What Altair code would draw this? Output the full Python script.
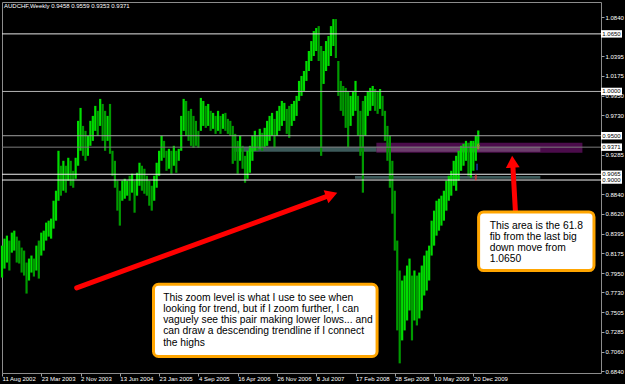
import datetime as dt
import altair as alt
import pandas as pd

W, H = 599, 371
START = dt.date(2002, 8, 11)

# two-week bar ranges (price units)
highs = [
    0.8259, 0.8338, 0.8372, 0.8316, 0.8406, 0.8428, 0.8361, 0.8316, 0.8237, 0.8203,
    0.8068, 0.8113, 0.8147, 0.8113, 0.8259, 0.8316, 0.8406, 0.8428, 0.8519, 0.8541,
    0.8564, 0.8766, 0.8879, 0.9330, 0.9161, 0.9217, 0.9161, 0.9251, 0.9217, 0.9104,
    0.9251, 0.9668, 0.9814, 0.9611, 0.9555, 0.9499, 0.9668, 0.9724, 0.9837, 0.9781,
    0.9916, 0.9859, 0.9781, 0.9724, 0.9859, 0.9330, 0.9217, 0.8992, 0.8879, 0.8992,
    0.9014, 0.8992, 0.9048, 0.9071, 0.8992, 0.9082, 0.9195, 0.9161, 0.9127, 0.9048,
    0.8992, 0.8935, 0.9048, 0.9195, 0.9330, 0.9499, 0.9442, 0.9330, 0.9352, 0.9330,
    0.9386, 0.9330, 0.9352, 0.9724, 0.9916, 0.9893, 0.9781, 0.9803, 0.9724, 0.9668,
    0.9555, 0.9927, 0.9893, 0.9837, 0.9859, 0.9781, 0.9758, 0.9724, 0.9781, 0.9724,
    0.9747, 0.9758, 0.9690, 0.9668, 0.9611, 0.9521, 0.9442, 0.9499, 0.9386, 0.9273,
    0.9330, 0.9386, 0.9499, 0.9555, 0.9499, 0.9578, 0.9533, 0.9589, 0.9668, 0.9724,
    0.9758, 0.9690, 0.9781, 0.9837, 0.9893, 0.9871, 0.9803, 0.9837, 0.9859, 0.9893,
    0.9950, 1.0119, 1.0175, 1.0231, 1.0344, 1.0457, 1.0569, 1.0682, 1.0716, 1.0738,
    1.0513, 1.0457, 1.0569, 1.0626, 1.0738, 1.0817, 1.0817, 1.0344, 1.0119, 1.0062,
    1.0040, 1.0006, 0.9950, 1.0006, 1.0119, 0.9950, 0.9781, 0.9893, 0.9950, 1.0006,
    1.0040, 1.0062, 1.0028, 1.0006, 1.0028, 0.9950, 0.9781, 0.9611, 0.9499, 0.9217,
    0.8879, 0.8316, 0.7978, 0.7865, 0.7921, 0.8034, 0.8113, 0.7921, 0.7978, 0.7921,
    0.7955, 0.8034, 0.8147, 0.8203, 0.8259, 0.8541, 0.8654, 0.8766, 0.8789, 0.8823,
    0.8879, 0.8992, 0.9048, 0.9104, 0.9217, 0.9273, 0.9330, 0.9386, 0.9409, 0.9442,
    0.9420, 0.9442, 0.9442, 0.9499, 0.9559,
]
lows = [
    0.7899, 0.8000, 0.8068, 0.7978, 0.8180, 0.8203, 0.8068, 0.8057, 0.7955, 0.7921,
    0.7718, 0.7865, 0.7955, 0.7910, 0.7978, 0.7887, 0.8147, 0.8203, 0.8316, 0.8361,
    0.8338, 0.8451, 0.8541, 0.8766, 0.8823, 0.8879, 0.8857, 0.8992, 0.8935, 0.8913,
    0.9014, 0.9161, 0.9330, 0.9273, 0.9217, 0.9273, 0.9386, 0.9442, 0.9555, 0.9499,
    0.9611, 0.9442, 0.9330, 0.9442, 0.9296, 0.9048, 0.8913, 0.8654, 0.8485, 0.8766,
    0.8789, 0.8823, 0.8766, 0.8857, 0.8631, 0.8823, 0.8935, 0.8879, 0.8845, 0.8823,
    0.8710, 0.8654, 0.8766, 0.8913, 0.9048, 0.9217, 0.9251, 0.9104, 0.9127, 0.9071,
    0.9161, 0.9082, 0.9217, 0.9330, 0.9555, 0.9499, 0.9442, 0.9386, 0.9364, 0.9386,
    0.9364, 0.9555, 0.9611, 0.9589, 0.9611, 0.9555, 0.9578, 0.9521, 0.9555, 0.9521,
    0.9578, 0.9555, 0.9521, 0.9499, 0.9183, 0.9217, 0.9071, 0.9217, 0.9127, 0.8969,
    0.9014, 0.9082, 0.9217, 0.9330, 0.9330, 0.9352, 0.9330, 0.9375, 0.9386, 0.9442,
    0.9499, 0.9364, 0.9499, 0.9555, 0.9611, 0.9668, 0.9521, 0.9476, 0.9611, 0.9668,
    0.9724, 0.9893, 0.9950, 1.0006, 1.0119, 1.0231, 1.0344, 1.0400, 1.0457, 1.0344,
    0.9273, 1.0085, 1.0231, 1.0288, 1.0400, 1.0513, 1.0378, 0.9950, 0.9781, 0.9724,
    0.9589, 0.9364, 0.9611, 0.9724, 0.9781, 0.9499, 0.9273, 0.8857, 0.9499, 0.9724,
    0.9781, 0.9837, 0.9781, 0.9747, 0.9803, 0.9724, 0.9442, 0.9217, 0.8913, 0.8620,
    0.8203, 0.7302, 0.6930, 0.7189, 0.7302, 0.7414, 0.7527, 0.7189, 0.7414, 0.7358,
    0.7437, 0.7527, 0.7696, 0.7752, 0.7865, 0.8147, 0.8259, 0.8372, 0.8428, 0.8485,
    0.8541, 0.8654, 0.8766, 0.8823, 0.8935, 0.8879, 0.8992, 0.9104, 0.9161, 0.9217,
    0.9048, 0.9026, 0.9104, 0.9217, 0.9353,
]

date_ticks = ["2002-08-11", "2003-03-23", "2003-11-02", "2004-06-13", "2005-01-23",
              "2005-09-04", "2006-04-16", "2006-11-26", "2007-07-08", "2008-02-17",
              "2008-09-28", "2009-05-10", "2009-12-20"]
price_ticks = [1.0840, 1.0395, 1.0175, 0.9950, 0.9730, 0.9285, 0.8840, 0.8620,
               0.8395, 0.8175, 0.7950, 0.7730, 0.7505, 0.7285, 0.7060, 0.6840]
levels = [1.0650, 1.0000, 0.9500, 0.9371, 0.9065, 0.9000]
level_colors = ["#e6e6e6", "#b4b4b4", "#a0a0a0", "#7c7c7c", "#f0f0f0", "#f0f0f0"]
title_text = "AUDCHF,Weekly  0.9458 0.9559 0.9353 0.9371"

# fib zones (date / price corners)
purple_zone = pd.DataFrame({"x1": ["2008-06-15"], "x2": ["2011-09-03"],
                            "y1": [0.9421], "y2": [0.9308]})
teal_zones = pd.DataFrame({"x1": ["2006-03-26", "2008-02-14"],
                           "x2": ["2008-06-15", "2011-01-06"],
                           "y1": [0.9376, 0.9046], "y2": [0.9320, 0.9014]})
overlap_zone = pd.DataFrame({"x1": ["2008-06-15"], "x2": ["2011-01-06"],
                             "y1": [0.9376], "y2": [0.9320]})

shafts = pd.DataFrame({
    "x1": ["2003-10-11", "2010-08-17"],
    "y1": [0.7783, 0.8642],
    "x2": ["2007-10-04", "2010-08-02"],
    "y2": [0.8834, 0.9173],
})
heads = pd.DataFrame({
    "x": ["2007-10-04", "2010-07-31"],
    "y": [0.8834, 0.9206],
    "a": [70, 357],
})

boxes = pd.DataFrame({
    "x1": ["2004-12-22", "2010-01-19"],
    "x2": ["2008-06-19", "2011-11-08"],
    "y1": [0.7822, 0.8640],
    "y2": [0.7008, 0.7977],
})
notes = pd.DataFrame({
    "x": ["2005-02-15", "2010-03-23"],
    "y": [0.7636, 0.8450],
    "t": [["This zoom level is what I use to see when",
           "looking for trend, but if I zoom further, I can",
           "vaguely see this pair making lower lows... and",
           "can draw a descending trendline if I connect",
           "the highs"],
          ["This area is the 61.8", "fib from the last big",
           "down move from", "1.0650"]],
})

rows = []
prev = None
for i, (h, l) in enumerate(zip(highs, lows)):
    mid = (h + l) / 2
    d = "up" if prev is None or mid >= prev else "down"
    prev = mid
    rows.append({"date": (START + dt.timedelta(days=14 * i)).isoformat(),
                 "high": h, "low": l, "dir": d})
bars_df = pd.DataFrame(rows)


def dtobj(s):
    y, m, d = (int(v) for v in s.split("-"))
    return alt.DateTime(year=y, month=m, date=d, utc=True)


xs = alt.Scale(type="utc", domain=[dtobj("2002-08-11"), dtobj("2011-12-18")])
ys = alt.Scale(domain=[0.6821, 1.1010], nice=False, zero=False)
xax = alt.Axis(values=[dtobj(s) for s in date_ticks],
               labelExpr="utcFormat(datum.value, '%-d %b %Y')",
               labelAlign="left", labelColor="#ffffff", labelFontSize=6,
               labelFont="Liberation Sans", tickColor="#a0a0a0", tickSize=3,
               labelPadding=-1, labelOverlap=False, labelFlush=False, labelBound=False,
               domain=False, grid=False, title=None)
yax = alt.Axis(orient="right", values=price_ticks, format=".4f", labelColor="#ffffff",
               labelFontSize=6, labelFont="Liberation Sans", tickColor="#a0a0a0",
               tickSize=3, labelPadding=1, labelOverlap=False, labelFlush=False,
               domain=False, grid=False, title=None)


def X(f):
    return alt.X(f, type="temporal", scale=xs, axis=xax)


def Y(f):
    return alt.Y(f, type="quantitative", scale=ys, axis=yax)


def zone(df, col):
    return alt.Chart(df).mark_rect(color=col, opacity=1).encode(
        x=X("x1"), x2="x2", y=Y("y1"), y2="y2")


bars = alt.Chart(bars_df).mark_rule(strokeWidth=2.2).encode(
    x=X("date"), y=Y("low"), y2="high",
    color=alt.Color("dir:N", scale=alt.Scale(domain=["up", "down"],
                                             range=["#00dc00", "#009a00"]), legend=None),
)

lev_df = pd.DataFrame({"v": levels, "c": level_colors})
lines = alt.Chart(lev_df).mark_rule(strokeWidth=1).encode(
    y=Y("v"), x=alt.value(0), x2=alt.value(W), stroke=alt.Stroke("c:N", scale=None),
)
lab_box = alt.Chart(lev_df).transform_calculate(
    top="datum.v + 0.0042", bot="datum.v - 0.0042"
).mark_rect(color="#ffffff").encode(
    y=Y("top"), y2="bot", x=alt.value(W), x2=alt.value(W + 21),
)
lab_txt = alt.Chart(lev_df).mark_text(
    fontSize=6, font="Liberation Sans", color="#000000", align="center", baseline="middle"
).encode(y=Y("v"), x=alt.value(W + 10.5), text=alt.Text("v:Q", format=".4f"))

shaft_layer = alt.Chart(shafts).mark_rule(color="#ff0000", strokeWidth=5, strokeCap="round").encode(
    x=X("x1"), y=Y("y1"), x2="x2", y2="y2",
)
head_layer = alt.Chart(heads).mark_point(
    shape="triangle-up", filled=True, color="#ff0000", size=190, opacity=1
).encode(x=X("x"), y=Y("y"), angle=alt.Angle("a:Q", scale=None))

box_layer = alt.Chart(boxes).mark_rect(
    fill="#ffffff", stroke="#ffa500", strokeWidth=3, cornerRadius=5
).encode(x=X("x1"), x2="x2", y=Y("y1"), y2="y2")

note_layer = alt.Chart(notes).mark_text(
    font="Liberation Sans", fontSize=10.3, color="#000000", align="left",
    baseline="alphabetic", lineHeight=11.2
).encode(x=X("x"), y=Y("y"), text="t")

marks_df = pd.DataFrame({"x": ["2010-01-17", "2010-01-03"], "y": [0.9380, 0.9030],
                         "c": ["#d08040", "#ff3030"]})
marker_layer = alt.Chart(marks_df).mark_point(shape="arrow", filled=False, size=30, strokeWidth=1).encode(
    x=X("x"), y=Y("y"), stroke=alt.Stroke("c:N", scale=None),
)
tick_df = pd.DataFrame({"x": ["2010-01-10"], "y1": [0.9184], "y2": [0.9110]})
blue_tick = alt.Chart(tick_df).mark_rule(color="#2060ff", strokeWidth=1).encode(
    x=X("x"), y=Y("y1"), y2="y2",
)

title_layer = alt.Chart(pd.DataFrame({"t": [title_text]})).mark_text(
    font="Liberation Sans", fontSize=6, color="#ffffff", align="left", baseline="middle"
).encode(x=alt.value(2), y=alt.value(4), text="t")

chart = alt.layer(
    zone(purple_zone, "#4b0c4b"), zone(teal_zones, "#3c5a5a"), zone(overlap_zone, "#6b3d6b"),
    bars, lines, blue_tick, marker_layer, shaft_layer, head_layer, box_layer,
    note_layer, lab_box, lab_txt, title_layer,
).properties(
    width=W, height=H, background="#000000",
    padding={"left": 2, "top": 2, "right": 24, "bottom": 11},
    autosize=alt.AutoSizeParams(type="none"),
).configure_view(stroke="#8c8c8c", strokeWidth=1)

chart.save("out.html", embed_options={"renderer": "svg", "actions": False})
